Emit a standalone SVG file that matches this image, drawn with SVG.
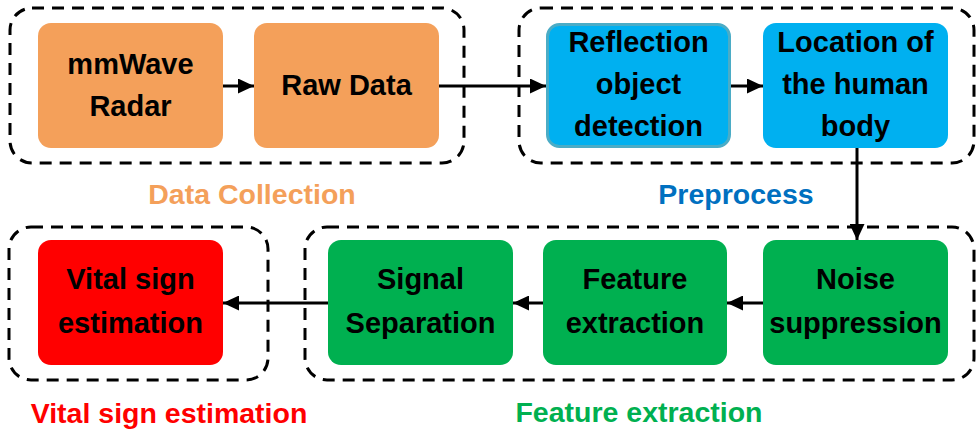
<svg xmlns="http://www.w3.org/2000/svg" width="977" height="433" viewBox="0 0 977 433">
  <style>
    .group { fill: none; stroke: #000; stroke-width: 3; stroke-dasharray: 12 8; }
    .node text { font-family: "Liberation Sans", Arial, sans-serif; font-weight: bold; font-size: 29px; fill: #000; text-anchor: middle; }
    .label { font-family: "Liberation Sans", Arial, sans-serif; font-weight: bold; font-size: 28.5px; text-anchor: middle; }
    .orange { fill: #F4A05A; }
    .blue { fill: #00B0F0; }
    .green { fill: #00B050; }
    .red { fill: #FF0000; }
    .conn { stroke: #000; stroke-width: 3; fill: none; marker-end: url(#head); }
  </style>
  <defs>
    <marker id="head" viewBox="0 0 16 15" refX="16" refY="7.5" markerUnits="userSpaceOnUse" markerWidth="16" markerHeight="15" orient="auto">
      <path d="M0,0 L16,7.5 L0,15 Z" fill="#000"/>
    </marker>
  </defs>
  <rect width="977" height="433" fill="#fff"/>

  <!-- stage frames -->
  <g id="frames">
    <rect class="group" x="10" y="8" width="454" height="155" rx="22"/>
    <rect class="group" x="519" y="8" width="455" height="155" rx="22"/>
    <rect class="group" x="9" y="227" width="259" height="153" rx="22"/>
    <rect class="group" x="305" y="227" width="669" height="153" rx="22"/>
  </g>

  <!-- stage captions -->
  <g id="captions">
    <text class="label" x="252" y="204" fill="#F4A05A">Data Collection</text>
    <text class="label" x="736" y="204" fill="#0070C0">Preprocess</text>
    <text class="label" x="169" y="423" fill="#FF0000">Vital sign estimation</text>
    <text class="label" x="639" y="422" fill="#00B050">Feature extraction</text>
  </g>

  <!-- connectors -->
  <g id="connectors">
    <line class="conn" x1="223" y1="86" x2="254" y2="86"/>
    <line class="conn" x1="439" y1="86" x2="546" y2="86"/>
    <line class="conn" x1="730" y1="86" x2="763" y2="86"/>
    <line class="conn" x1="857" y1="148" x2="857" y2="240"/>
    <line class="conn" x1="763" y1="303" x2="727" y2="303"/>
    <line class="conn" x1="543" y1="303" x2="513" y2="303"/>
    <line class="conn" x1="328" y1="303" x2="223" y2="303"/>
  </g>

  <g id="radar" class="node">
    <rect class="orange" x="38" y="23" width="185" height="125" rx="13"/>
    <text x="130.5" y="74">mmWave</text>
    <text x="130.5" y="116">Radar</text>
  </g>
  <g id="raw-data" class="node">
    <rect class="orange" x="254" y="23" width="185" height="125" rx="13"/>
    <text x="346.5" y="95">Raw Data</text>
  </g>
  <g id="reflection" class="node">
    <rect class="blue" x="547.5" y="24.5" width="182" height="122" rx="12" stroke="#4BACC6" stroke-width="3"/>
    <text x="638.5" y="52">Reflection</text>
    <text x="638.5" y="94">object</text>
    <text x="638.5" y="136">detection</text>
  </g>
  <g id="location" class="node">
    <rect class="blue" x="763" y="23" width="185" height="125" rx="13"/>
    <text x="855.5" y="52">Location of</text>
    <text x="855.5" y="94">the human</text>
    <text x="855.5" y="136">body</text>
  </g>
  <g id="noise" class="node">
    <rect class="green" x="763" y="240" width="185" height="125" rx="13"/>
    <text x="855.5" y="289">Noise</text>
    <text x="855.5" y="333">suppression</text>
  </g>
  <g id="feature" class="node">
    <rect class="green" x="543" y="240" width="184" height="125" rx="13"/>
    <text x="635" y="289">Feature</text>
    <text x="635" y="333">extraction</text>
  </g>
  <g id="separation" class="node">
    <rect class="green" x="328" y="240" width="185" height="125" rx="13"/>
    <text x="420.5" y="289">Signal</text>
    <text x="420.5" y="333">Separation</text>
  </g>
  <g id="vital" class="node">
    <rect class="red" x="38" y="240" width="185" height="125" rx="13"/>
    <text x="130.5" y="289">Vital sign</text>
    <text x="130.5" y="333">estimation</text>
  </g>
</svg>
